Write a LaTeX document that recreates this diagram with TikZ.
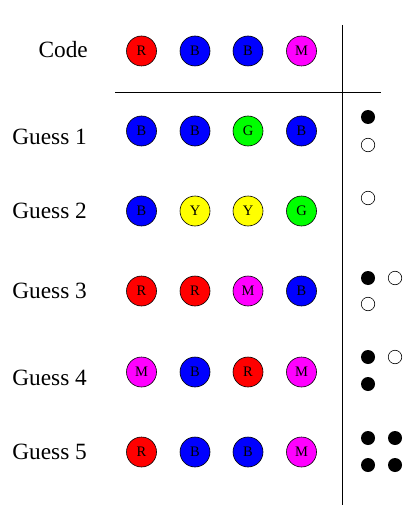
\documentclass[tikz,border=0pt]{standalone}
\usepackage{fontspec}
\setmainfont{Liberation Serif}
\begin{document}
\begin{tikzpicture}[x=1pt,y=-1pt,
  peg/.style={circle,draw=black,line width=0.6pt,minimum size=30pt,inner sep=0pt,font=\fontsize{14.5}{14.5}\selectfont},
  lbl/.style={anchor=east,font=\fontsize{23.3}{23.3}\selectfont,inner sep=0pt},
  kblack/.style={circle,fill=black,minimum size=14pt,inner sep=0pt},
  kwhite/.style={circle,draw=black,line width=0.6pt,fill=white,minimum size=13.5pt,inner sep=0pt},
  rule/.style={line width=0.7pt}]
\useasboundingbox (0,0) rectangle (404,505);
\definecolor{cR}{rgb}{1,0,0}
\definecolor{cB}{rgb}{0,0,1}
\definecolor{cG}{rgb}{0,1,0}
\definecolor{cY}{rgb}{1,1,0}
\definecolor{cM}{rgb}{1,0,1}
% labels
\node[lbl] (lc) at (88,50) {Code};
\node[lbl] (l1) at (87,137) {Guess 1};
\node[lbl] (l2) at (87,211) {Guess 2};
\node[lbl] (l3) at (87,291) {Guess 3};
\node[lbl] (l4) at (87,378) {Guess 4};
\node[lbl] (l5) at (87,452) {Guess 5};
% pegs
\foreach \row/\y/\a/\b/\c/\d in {c/51/R/B/B/M, 1/131/B/B/G/B, 2/211/B/Y/Y/G, 3/291/R/R/M/B, 4/372/M/B/R/M, 5/452/R/B/B/M}{
  \node[peg,fill=c\a] (p\row a) at (141.5,\y) {\a};
  \node[peg,fill=c\b] (p\row b) at (195,\y) {\b};
  \node[peg,fill=c\c] (p\row c) at (248,\y) {\c};
  \node[peg,fill=c\d] (p\row d) at (301.5,\y) {\d};
}
% rules
\coordinate (vt) at (342,25);
\coordinate (vb) at (342,505);
\coordinate (hl) at (115,92);
\coordinate (hr) at (381,92);
\draw[rule] (vt) -- (vb);
\draw[rule] (hl) -- (hr);
% key pegs
\node[kblack] (k1a) at (368,117) {};
\node[kwhite] (k1b) at (368,145) {};
\node[kwhite] (k2a) at (368,198) {};
\node[kblack] (k3a) at (368,278) {};
\node[kwhite] (k3b) at (395,278) {};
\node[kwhite] (k3c) at (368,304) {};
\node[kblack] (k4a) at (368,357) {};
\node[kwhite] (k4b) at (395,357) {};
\node[kblack] (k4c) at (368,384) {};
\node[kblack] (k5a) at (368,438) {};
\node[kblack] (k5b) at (395,438) {};
\node[kblack] (k5c) at (368,465) {};
\node[kblack] (k5d) at (395,465) {};
\end{tikzpicture}
\end{document}
